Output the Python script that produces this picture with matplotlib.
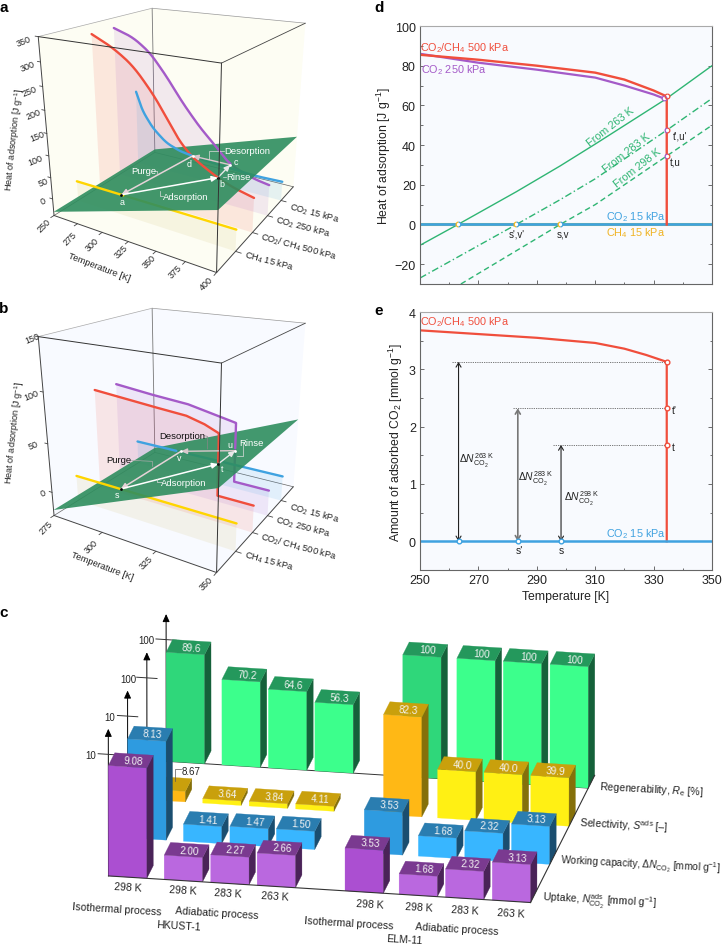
import numpy as np
import matplotlib
matplotlib.use('Agg')
import matplotlib.pyplot as plt
from matplotlib.patches import Polygon, FancyArrowPatch
from matplotlib.path import Path

plt.rcParams['font.family'] = ['Liberation Sans', 'DejaVu Sans']
plt.rcParams['mathtext.fontset'] = 'custom'
plt.rcParams['mathtext.rm'] = 'Liberation Sans'
plt.rcParams['mathtext.it'] = 'Liberation Sans:italic'
plt.rcParams['mathtext.bf'] = 'Liberation Sans:bold'

# panel a: heat of adsorption curves
a_t_red = [250, 271, 291, 310, 322, 334, 346, 359, 369, 382, 400]
a_q_red = [327, 304, 271, 216, 171, 125, 95, 76, 63, 50, 39]
a_t_pur = [250, 270, 287, 303, 319, 336, 352, 365, 386, 400]
a_q_pur = [327, 311, 282, 235, 180, 130, 92, 58, 39, 33]
a_t_blu = [250, 257, 268, 283, 298, 312, 326, 373, 400]
a_q_blu = [154, 107, 68, 36, 22, 17, 13, 5, 7]
a_t_yel = [250, 400]
a_q_yel = [8, 8]
a_plane_t = [250, 400]
a_plane_q = [-31, 88]
a_points = {'a': (297, 0.2, 8), 'b': (369, 0.4, 63), 'c': (365, 0.6, 58), 'd': (312, 0.8, 17)}

# panel b
b_t_red = [275, 303, 320, 328, 334.5, 334.5, 350]
b_q_red = [83, 78, 75.5, 71, 65, 2.7, 2.7]
b_t_pur = [275, 293, 312, 326, 334.5, 334.5, 350]
b_q_pur = [80, 76, 73, 67, 63.4, 2, 2]
b_t_blu = [275, 350]
b_q_blu = [2, 2]
b_t_yel = [275, 350]
b_q_yel = [2.5, 2.5]
b_plane_t = [275, 350]
b_plane_q = [-19, 51.5]
b_points = {'s': (298.3, 0.2, 2.5), 't': (334.5, 0.4, 35), 'u': (334.5, 0.6, 35), 'v': (299.8, 0.8, 2.8)}

gas_depth = [0.2, 0.4, 0.6, 0.8]

# panel c
uptake = [9.08, 2.00, 2.27, 2.66, 3.53, 1.68, 2.32, 3.13]
working = [8.13, 1.41, 1.47, 1.50, 3.53, 1.68, 2.32, 3.13]
select = [8.67, 3.64, 3.84, 4.11, 82.3, 40.0, 40.0, 39.9]
regen = [89.6, 70.2, 64.6, 56.3, 100, 100, 100, 100]
bar_x = [0, 1.45, 2.66, 3.87, 6.16, 7.57, 8.78, 10.0]

# panel d
d_t_red = [250, 270, 290, 310, 320, 330, 334.5, 334.5]
d_q_red = [85.5, 83, 80, 76.5, 73, 67.5, 64.5, 0]
d_t_pur = [250, 270, 290, 310, 320, 330, 333.5]
d_q_pur = [86, 81.5, 78, 74, 70, 65.5, 63.5]
d_t_263 = [250, 263, 283, 298, 310, 334, 350]
d_q_263 = [-10.5, 0, 16.5, 29.5, 40.5, 63, 80]
d_t_283 = [250, 283, 298, 310, 334.5, 350]
d_q_283 = [-27, 0, 12.5, 23, 47.5, 63.5]
d_t_298 = [264, 298, 310, 334.5, 350]
d_q_298 = [-30, 0, 10, 34.5, 50]

# panel e
e_t_red = [250, 290, 310, 320, 327.5, 334.5, 334.5]
e_n_red = [3.68, 3.55, 3.46, 3.36, 3.25, 3.13, 0]
e_t_start = [263.2, 283.5, 298.3]
e_n_end = [3.13, 2.32, 1.68]
e_dot_from = [261, 282, 295.6]

RED = '#F04E3C'
PUR = '#A45AC8'
BLU = '#3FA2E0'
YEL = '#FFD500'
GRN = '#2FB573'


def fit_cam(pts3, pts2):
    # camera matrix from the corners of a box
    A = []
    for (u, v, w), (x, y) in zip(pts3, pts2):
        A.append([u, v, w, 1, 0, 0, 0, 0, -x*u, -x*v, -x*w, -x])
        A.append([0, 0, 0, 0, u, v, w, 1, -y*u, -y*v, -y*w, -y])
    return np.linalg.svd(np.array(A, float))[2][-1].reshape(3, 4)


def cam(P, u, v, w):
    u, v, w = np.broadcast_arrays(np.asarray(u, float), np.asarray(v, float), np.asarray(w, float))
    q = P @ np.vstack([u.ravel(), v.ravel(), w.ravel(), np.ones(u.size)])
    return q[0]/q[2], q[1]/q[2]


def smooth(y, n):
    if n < 2:
        return y
    p = np.pad(y, n, mode='reflect', reflect_type='odd')
    return np.convolve(p, np.ones(n)/n, mode='same')[n:-n]


box3 = [(0, 0, 0), (1, 0, 0), (1, 1, 0), (0, 1, 0), (0, 0, 1), (1, 0, 1), (1, 1, 1), (0, 1, 1)]
box2 = [(163, 657), (648, 815), (880, 570), (465, 452), (115, 113), (665, 188), (917, 73), (455, 30)]
P_box = fit_cam(box3, box2)
bar2 = [(325, 860), (1592, 940), (1784, 560), (518, 479), (325, 497), (1592, 577), (1784, 194), (518, 113)]
P_bar = fit_cam(box3, bar2)

fig = plt.figure(figsize=(7.27, 9.45), dpi=100)
ax = fig.add_axes([0, 0, 1, 1], zorder=5)
ax.set_xlim(0, 727)
ax.set_ylim(945, 0)
ax.axis('off')
ax.patch.set_visible(False)


def cube(y0, trange, qrange, curves, plane_t, plane_q, points, wall, tticks, tlab, qticks, qlab, sm):
    tmin, tmax = trange
    qmin, qmax = qrange

    def xy(t, v, q):
        x, y = cam(P_box, (np.asarray(t, float)-tmin)/(tmax-tmin), v, (np.asarray(q, float)-qmin)/(qmax-qmin))
        return x/3, y0+y/3

    def corner(u, v, w):
        x, y = cam(P_box, u, v, w)
        return x[0]/3, y0+y[0]/3

    hull = [corner(0, 0, 0), corner(1, 0, 0), corner(1, 1, 0), corner(1, 1, 1), corner(0, 1, 1), corner(0, 0, 1)]
    ax.add_patch(Polygon(hull, fc=wall, ec='none', zorder=1))

    def edge(p, q, c, lw, z):
        ax.plot([p[0], q[0]], [p[1], q[1]], color=c, lw=lw, zorder=z, solid_capstyle='round')

    # back edges first
    edge(corner(0, 1, 0), corner(0, 1, 1), '#777777', 0.6, 1.1)
    edge(corner(0, 1, 1), corner(1, 1, 1), '#999999', 0.5, 1.1)
    edge(corner(0, 1, 1), corner(0, 0, 1), '#aaaaaa', 0.5, 1.1)
    edge(corner(0, 1, 0), corner(1, 1, 0), '#666666', 0.5, 1.1)
    edge(corner(0, 1, 0), corner(0, 0, 0), '#666666', 0.5, 1.1)

    pl_t = np.array(plane_t, float)
    pl_q = np.array(plane_q, float)
    parts = []
    for (t, q, col, shade), v in zip(curves, gas_depth):
        # split each curve where it goes under the green plane
        s = np.arange(len(t))
        ss = np.linspace(0, len(t)-1, 500)
        td = smooth(np.interp(ss, s, t), sm)
        qd = smooth(np.interp(ss, s, q), sm)
        # shaded wall under the curve
        xs, ys = xy(td, v, qd)
        xb, yb = xy(td, v, np.full(len(td), qmin))
        poly = list(zip(xs, ys)) + list(zip(xb[::-1], yb[::-1]))
        ax.add_patch(Polygon(poly, fc=shade, ec='none', alpha=0.12, zorder=1.5))
        above = qd > np.interp(td, pl_t, pl_q)
        parts.append((td, qd, above, col, v))
        x2, y2 = xs.copy(), ys.copy()
        x2[above] = np.nan
        ax.plot(x2, y2, color=col, lw=1.7, zorder=2, solid_capstyle='round')

    xp, yp = xy([pl_t[0], pl_t[1], pl_t[1], pl_t[0]], [0, 0, 1, 1], [pl_q[0], pl_q[1], pl_q[1], pl_q[0]])
    ax.add_patch(Polygon(list(zip(xp, yp)), fc='#2E8D5E', ec='none', alpha=0.9, zorder=3))

    for td, qd, above, col, v in parts:
        x, y = xy(td, v, qd)
        x[~above] = np.nan
        ax.plot(x, y, color=col, lw=1.7, zorder=4, solid_capstyle='round')

    # front edges
    edge(corner(1, 0, 0), corner(1, 0, 1), '#333333', 0.7, 7)
    edge(corner(0, 0, 1), corner(1, 0, 1), '#333333', 0.7, 7)
    edge(corner(1, 0, 1), corner(1, 1, 1), '#444444', 0.6, 7)
    edge(corner(0, 0, 0), corner(0, 0, 1), '#444444', 0.7, 7)
    edge(corner(0, 0, 0), corner(1, 0, 0), '#444444', 0.7, 7)
    edge(corner(1, 0, 0), corner(1, 1, 0), '#444444', 0.7, 7)

    # ticks
    for t, pos in zip(tticks, tlab):
        x, y = xy([t, t], [0, -0.025], [qmin, qmin])
        ax.plot(x, y, color='#444444', lw=0.6, zorder=7)
        ax.text(pos[0]/3, y0+pos[1]/3, str(t), rotation=45, ha='center', va='center', fontsize=6.5, color='#222222')
    for qv, pos in zip(qticks, qlab):
        x, y = xy([tmin, tmin-(tmax-tmin)*0.02], [0, 0], [qv, qv])
        ax.plot(x, y, color='#444444', lw=0.6, zorder=7)
        ax.text(pos[0]/3, y0+pos[1]/3, str(qv), rotation=22, ha='center', va='center', fontsize=6.5, color='#222222')
    for v in gas_depth:
        x, y = xy([tmax, tmax+(tmax-tmin)*0.03], [v, v], [qmin, qmin])
        ax.plot(x, y, color='#444444', lw=0.6, zorder=7)

    # cycle arrows
    names = list(points)
    pts = {k: xy([points[k][0]], points[k][1], [points[k][2]]) for k in names}
    pts = {k: (p[0][0], p[1][0]) for k, p in pts.items()}
    a1, a2, a3, a4 = names
    for s, e, c, lw in [(a4, a1, '#E6D3D8', 1.1), (a1, a2, 'white', 1.1), (a2, a3, '#E8E8E8', 1.0), (a3, a4, '#D9C8CC', 1.0)]:
        ax.add_patch(FancyArrowPatch(pts[s], pts[e], arrowstyle='-|>,head_length=3.5,head_width=1.6', color=c,
                                     lw=lw, shrinkA=0, shrinkB=0, zorder=5))
    for k, c in zip(names, ['black', 'black', 'white', 'white']):
        ax.plot(*pts[k], 'o', ms=2, mfc=c, mec='none', zorder=6)
    return pts


def zt(y0, x, y, s, size=6.8, color='white', rot=0, ha='center', z=8):
    ax.text(x/3, y0+y/3, s, fontsize=size, color=color, rotation=rot, ha=ha, va='center',
            rotation_mode='anchor', zorder=z)


def leader(y0, xs, ys, color='#dddddd'):
    ax.plot(np.array(xs)/3, y0+np.array(ys)/3, color=color, lw=0.5, zorder=5.5)


SH_Y = '#C8B45A'
# panel a
cube(0, (250, 400), (-40, 350),
     [(a_t_yel, a_q_yel, YEL, SH_Y), (a_t_red, a_q_red, RED, RED), (a_t_pur, a_q_pur, PUR, PUR), (a_t_blu, a_q_blu, BLU, BLU)],
     a_plane_t, a_plane_q, a_points, '#FDFDF3',
     [250, 275, 300, 325, 350, 375, 400],
     [(133, 677), (210, 718), (278, 735), (363, 757), (447, 787), (527, 817), (620, 852)],
     [0, 50, 100, 150, 200, 250, 300, 350],
     [(128, 604), (130, 547), (105, 482), (112, 412), (102, 345), (90, 275), (82, 202), (72, 125)], 45)
zt(0, 430, 513, 'Purge')
zt(0, 557, 592, 'Adsorption')
zt(0, 742, 455, 'Desorption')
zt(0, 715, 533, 'Rinse')
zt(0, 365, 608, 'a', 6.4)
zt(0, 665, 553, 'b', 6.4)
zt(0, 708, 488, 'c', 6.4)
zt(0, 568, 493, 'd', 6.4)
leader(0, [462, 472, 472], [515, 515, 522])
leader(0, [490, 480, 480], [592, 592, 575])
leader(0, [672, 628, 628], [455, 455, 480])
leader(0, [678, 668], [533, 533])

# panel b
cube(300, (275, 350), (-25, 150),
     [(b_t_yel, b_q_yel, YEL, SH_Y), (b_t_red, b_q_red, RED, RED), (b_t_pur, b_q_pur, PUR, PUR), (b_t_blu, b_q_blu, BLU, BLU)],
     b_plane_t, b_plane_q, b_points, '#F8FAFF',
     [275, 300, 325, 350], [(137, 685), (275, 740), (440, 790), (620, 852)],
     [0, 50, 100, 150], [(130, 582), (100, 437), (95, 287), (97, 117)], 0)
zt(300, 547, 410, 'Desorption', color='#111111')
zt(300, 355, 482, 'Purge', color='#111111')
zt(300, 552, 552, 'Adsorption')
zt(300, 755, 432, 'Rinse')
zt(300, 352, 587, 's', 6.4)
zt(300, 667, 507, 't', 6.4)
zt(300, 690, 438, 'u', 6.4)
zt(300, 537, 475, 'v', 6.4)
leader(300, [612, 622, 622], [410, 412, 450], '#888888')
leader(300, [392, 457, 457], [484, 487, 502], '#aaaaaa')
leader(300, [485, 470, 470], [550, 550, 540])
leader(300, [732, 730, 730, 710], [432, 432, 470, 470])

gas_lab = [(868, 622, 'CO$_2$ 15 kPa'), (826, 660, 'CO$_2$ 250 kPa'), (783, 710, 'CO$_2$/ CH$_4$ 500 kPa'), (733, 766, 'CH$_4$ 15 kPa')]
for y0 in [0, 300]:
    for x, y, s in gas_lab:
        zt(y0, x, y, s, 6.7, '#222222', rot=-15, ha='left')
zt(0, 45, 420, 'Heat of adsorption [J g$^{-1}$]', 6.6, '#222222', rot=84)
zt(300, 45, 400, 'Heat of adsorption [J g$^{-1}$]', 6.6, '#222222', rot=84)
zt(0, 297, 802, 'Temperature [K]', 6.6, '#222222', rot=-21)
zt(300, 306, 800, 'Temperature [K]', 6.6, '#222222', rot=-21)

# panel c
rows = [
    (regen, 100, ['#2FD77A', '#3CFF8C', '#3CFF8C', '#3CFF8C', '#2FD77A', '#3CFF8C', '#3CFF8C', '#3CFF8C'], '#24985C', '#15613A'),
    (select, 100, ['#FFB815', '#FFF014', '#FFF014', '#FFF014', '#FFB815', '#FFF014', '#FFF014', '#FFF014'], '#C9A00C', '#85700A'),
    (working, 10, ['#2E9BE0', '#38B6FF', '#38B6FF', '#38B6FF', '#2E9BE0', '#38B6FF', '#38B6FF', '#38B6FF'], '#2A7DB0', '#1A4E70'),
    (uptake, 10, ['#AB4FD1', '#BA68DF', '#BA68DF', '#BA68DF', '#AB4FD1', '#BA68DF', '#BA68DF', '#BA68DF'], '#7A3A90', '#4A2358'),
]
row_v = [0.9, 0.6, 0.3, 0.0]
tick_txt = [(440, 152, '100'), (385, 270, '100'), (330, 385, '10'), (273, 497, '10')]


def c_xy(u, v, w):
    x, y = cam(P_bar, u, v, w)
    return x/3, 590+y/3


# back line of the floor and the side line
x, y = c_xy([0, 1], 0.9, 0)
ax.plot(x, y, color='#333333', lw=0.7, zorder=10)

z = 11
for (vals, scale, fronts, top, side), v0, tt in zip(rows, row_v, tick_txt):
    x, y = c_xy([0, 0], v0, [0, 1.21])
    ax.add_patch(FancyArrowPatch((x[0], y[0]), (x[1], y[1]), arrowstyle='-|>,head_length=4.6,head_width=2.1', color='black',
                                 lw=0.7, shrinkA=0, shrinkB=0, zorder=z))
    x, y = c_xy([-0.024, 0.024], v0, 1)
    ax.plot(x, y, color='#333333', lw=0.7, zorder=z)
    ax.text(tt[0]/3, 590+tt[1]/3, tt[2], fontsize=7, color='#222222', ha='center', va='center', zorder=z)
    for i in range(7, -1, -1):
        u0 = bar_x[i]/11.0
        u1 = (bar_x[i]+1)/11.0
        v1 = v0+0.1
        h = vals[i]/scale
        face = list(zip(*c_xy([u0, u1, u1, u0], v0, [0, 0, h, h])))
        sidef = list(zip(*c_xy(u1, [v0, v1, v1, v0], [0, 0, h, h])))
        topf = list(zip(*c_xy([u0, u1, u1, u0], [v0, v0, v1, v1], h)))
        ax.add_patch(Polygon(face, fc=fronts[i], ec=fronts[i], lw=0.2, zorder=z+0.1))
        ax.add_patch(Polygon(sidef, fc=side, ec=side, lw=0.2, zorder=z+0.1))
        ax.add_patch(Polygon(topf, fc=top, ec=top, lw=0.2, zorder=z+0.1))
        if vals[i] == 8.67:
            continue
        lab = str(vals[i]) if vals[i] == 100 else ('%.2f' % vals[i] if scale == 10 else '%.1f' % vals[i]
                                                  if v0 == 0.9 or vals[i] > 10 else '%.2f' % vals[i])
        xt, yt = c_xy((u0+u1)/2+0.006, v0+0.05, h)
        ax.text(xt[0], yt[0], lab, fontsize=7.1, color='#F4F4F4', ha='center', va='center', rotation=-3.5,
                rotation_mode='anchor', zorder=z+0.2)
    z += 1

x, y = c_xy([0, 1], 0, 0)
ax.plot(x, y, color='#333333', lw=0.8, zorder=z)
x, y = c_xy(1, [0, 1], 0)
ax.plot(x, y, color='#333333', lw=0.8, zorder=z)
ax.plot(np.array([525, 525, 542])/3, 590+np.array([575, 540, 540])/3, color='#555555', lw=0.5, zorder=z)
ax.text(573/3, 590+547/3, '8.67', fontsize=7, color='#222222', ha='center', va='center', zorder=z)


def c5(x, y, s, size=7.6, rot=-3.5, ha='center', color='#222222'):
    ax.text(x/3, 590+y/3, s, fontsize=size, color=color, rotation=rot, ha=ha, va='center', rotation_mode='anchor', zorder=30)


for x, y in [(385, 893), (548, 903), (685, 913), (825, 922), (1110, 945), (1257, 953), (1394, 963), (1532, 972)]:
    c5(x, y, '298 K' if x in (385, 548, 1110, 1257) else ('283 K' if x in (685, 1394) else '263 K'))
c5(350, 958, 'Isothermal process')
c5(652, 970, 'Adiabatic process')
c5(535, 1008, 'HKUST-1')
c5(1047, 1000, 'Isothermal process')
c5(1372, 1020, 'Adiabatic process')
c5(1214, 1050, 'ELM-11')
c5(1797, 590, 'Regenerability, $R_{\\mathrm{e}}$ [%]', ha='left', rot=-3)
c5(1739, 698, 'Selectivity, $S^{\\mathrm{ads}}$ [\u2013]', ha='left', rot=-3)
c5(1682, 812, 'Working capacity, $\\Delta N_{\\mathrm{CO}_2}$ [mmol g$^{-1}$]', size=7.2, ha='left', rot=-3)
c5(1627, 928, 'Uptake, $N_{\\mathrm{CO}_2}^{\\mathrm{ads}}$ [mmol g$^{-1}$]', ha='left', rot=-3)

# panel letters
for s, x, y in [('a', 4, 8), ('b', 4, 309), ('c', 4, 613), ('d', 379, 8), ('e', 379, 311)]:
    ax.text(x, y, s, fontsize=11, fontweight='bold', ha='center', va='center', color='black')


def half_ring(a, x, y, c1, c2):
    # two half circles for a point shared by two curves
    a.plot(x, y, 'o', ms=3, mfc='white', mec='none', zorder=6, clip_on=False)
    a.plot(x, y, marker=Path.arc(90, 270), ms=3.4, mfc='none', mec=c1, mew=0.9, ls='none', zorder=7)
    a.plot(x, y, marker=Path.arc(-90, 90), ms=3.4, mfc='none', mec=c2, mew=0.9, ls='none', zorder=7)


def style_axes(a, ymaj, ymin_step):
    a.set_facecolor('#F8FAFE')
    a.set_xlim(250, 350)
    a.set_xticks(np.arange(250, 351, 20))
    a.set_xticks(np.arange(250, 351, 10), minor=True)
    a.set_yticks(ymaj)
    a.set_yticks(np.arange(ymaj[0], ymaj[-1]+1e-6, ymin_step), minor=True)
    a.tick_params(which='major', direction='in', length=3, width=0.6, color='#555555', right=True,
                  labelsize=9, pad=3, labelcolor='#222222')
    a.tick_params(which='minor', direction='in', length=1.8, width=0.6, color='#555555', right=True)
    for k, sp in a.spines.items():
        sp.set_color('#666666' if k != 'top' else '#aaaaaa')
        sp.set_linewidth(0.8)


# panel d
axd = fig.add_axes([420/727, 1-285/945, 292/727, 258/945])
style_axes(axd, np.arange(-20, 101, 20), 10)
axd.set_ylim(-30, 100)
axd.set_xticklabels([])
axd.set_ylabel('Heat of adsorption [J g$^{-1}$]', fontsize=8.8, color='#222222', labelpad=1)
axd.plot(d_t_263, d_q_263, color=GRN, lw=1.0)
axd.plot(d_t_283, d_q_283, color=GRN, lw=1.0, ls=(0, (5, 2, 1, 2)))
axd.plot(d_t_298, d_q_298, color=GRN, lw=1.0, ls=(0, (4, 2.5)))
axd.plot([250, 350], [0, 0], color=YEL, lw=2.2)
axd.plot([250, 350], [0, 0], color=BLU, lw=2.0)
axd.plot(d_t_pur, d_q_pur, color=PUR, lw=1.6)
axd.plot(d_t_red, d_q_red, color=RED, lw=1.7)
for t in [263, 283, 298]:
    half_ring(axd, t, 0, '#F5B820', BLU)
half_ring(axd, 333.7, 63.5, PUR, PUR)
half_ring(axd, 334.6, 64.5, RED, RED)
for q in [47.5, 34.5]:
    half_ring(axd, 334.6, q, PUR, RED)

# panel e
axe = fig.add_axes([420/727, 1-571/945, 292/727, 258/945])
style_axes(axe, np.arange(0, 5), 0.5)
axe.set_ylim(-0.5, 4)
axe.set_xlabel('Temperature [K]', fontsize=8.8, color='#222222', labelpad=3)
axe.set_ylabel('Amount of adsorbed CO$_2$ [mmol g$^{-1}$]', fontsize=8.8, color='#222222', labelpad=3)
axe.plot(e_t_red, e_n_red, color=RED, lw=1.6)
axe.plot([250, 350], [0, 0], color=BLU, lw=1.8)
for t0, n, ts, c, lw in zip(e_dot_from, e_n_end, e_t_start, ['#222222', '#777777', '#222222'], [0.8, 1.2, 0.8]):
    axe.plot([t0, 334.5], [n, n], color='#666666', lw=0.6, ls=(0, (1.5, 1.2)))
    axe.annotate('', xy=(ts, n), xytext=(ts, 0), arrowprops=dict(arrowstyle='<->,head_length=0.3,head_width=0.18', color=c,
                                                               lw=lw, shrinkA=0, shrinkB=0))
    axe.plot(ts, 0, 'o', ms=3.4, mfc='white', mec=BLU, mew=1, zorder=6)
    axe.plot(334.5, n, 'o', ms=3.4, mfc='white', mec=RED, mew=1, zorder=6)


def d_txt(x, y, s, size=7.8, color='#222222', rot=0):
    ax.text(370+x/3, y/3, s, fontsize=size, color=color, rotation=rot, ha='center', va='center', rotation_mode='anchor', zorder=30)


d_txt(285, 145, 'CO$_2$/CH$_4$ 500 kPa', color=RED)
d_txt(252, 210, 'CO$_2$ 250 kPa', color=PUR)
d_txt(722, 381, 'From 263 K', color=GRN, rot=38)
d_txt(770, 458, 'From 283 K', color=GRN, rot=38)
d_txt(802, 505, 'From 298 K', color=GRN, rot=38)
d_txt(797, 652, 'CO$_2$ 15 kPa', color=BLU)
d_txt(797, 700, 'CH$_4$ 15 kPa', color='#F0B323')
d_txt(441, 703, "s',v'", 7)
d_txt(578, 703, 's,v', 7)
d_txt(930, 410, "t',u'", 7)
d_txt(916, 492, 't,u', 7)


def e_txt(x, y, s, size=7.8, color='#222222'):
    ax.text(370+x/3, 295+y/3, s, fontsize=size, color=color, ha='center', va='center', zorder=30)


e_txt(285, 82, 'CO$_2$/CH$_4$ 500 kPa', color=RED)
e_txt(797, 717, 'CO$_2$ 15 kPa', color=BLU)
e_txt(913, 347, "t'", 7.4)
e_txt(910, 458, 't', 7.4)
e_txt(447, 768, "s'", 7.4)
e_txt(575, 768, 's', 7.4)
e_txt(320, 497, '$\\Delta N_{\\mathrm{CO}_2}^{263\\ \\mathrm{K}}$', 7.4)
e_txt(497, 553, '$\\Delta N_{\\mathrm{CO}_2}^{283\\ \\mathrm{K}}$', 7.4)
e_txt(635, 612, '$\\Delta N_{\\mathrm{CO}_2}^{298\\ \\mathrm{K}}$', 7.4)

fig.savefig('out.png', dpi=100)
